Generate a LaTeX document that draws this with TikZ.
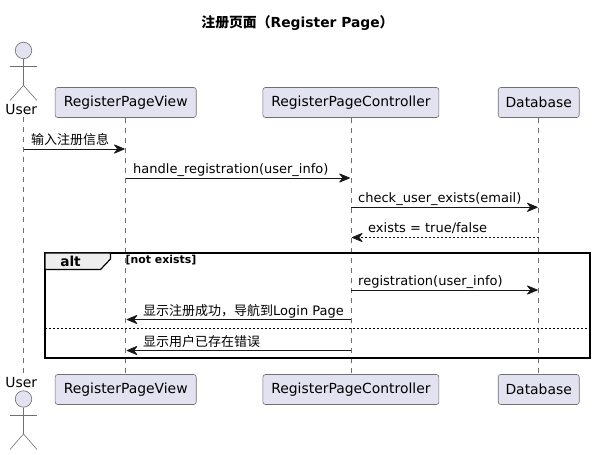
\documentclass[tikz,border=0pt]{standalone}
\usepackage{fontspec}
\setmainfont{DejaVu Sans}
\newfontfamily\cjk{Noto Sans CJK SC}
\usetikzlibrary{arrows.meta,calc}
\definecolor{pfill}{HTML}{E2E2F0}
\definecolor{pline}{HTML}{707070}
\definecolor{mline}{HTML}{181818}
\definecolor{tabfill}{HTML}{EEEEEE}
\tikzset{
  part/.style={draw=pline,line width=.6pt,fill=pfill,rounded corners=2.5pt,minimum height=30bp,inner sep=0pt,font=\fontsize{13.9bp}{16bp}\selectfont,text=black},
  lifeline/.style={draw=pline,line width=.6pt,dash pattern=on 5bp off 5bp},
  actorline/.style={draw=pline,line width=.6pt},
  actorhead/.style={circle,draw=pline,line width=.6pt,fill=pfill,minimum size=16.5bp,inner sep=0pt},
  actorname/.style={font=\fontsize{13.9bp}{16bp}\selectfont,inner sep=0pt,text=black},
  msg/.style={draw=mline,line width=.75pt,-{Stealth[length=12bp,width=10bp,inset=4bp,round]},shorten >=1bp},
  ret/.style={msg,dash pattern=on 2bp off 2bp},
  msgtext/.style={anchor=base west,inner sep=0pt,font=\fontsize{13bp}{16bp}\selectfont,text=black},
  titletext/.style={inner sep=0pt,font=\fontsize{13.85bp}{16bp}\selectfont\bfseries,text=black},
  altframe/.style={draw=black,line width=1.5pt},
  alttab/.style={draw=black,line width=1.2pt,fill=tabfill},
  alttext/.style={inner sep=0pt,font=\fontsize{13.7bp}{16bp}\selectfont\bfseries,text=black},
  guardtext/.style={anchor=base west,inner sep=0pt,font=\fontsize{10.9bp}{12bp}\selectfont\bfseries,text=black},
  sep/.style={draw=black,line width=.75pt,dash pattern=on 2bp off 2bp},
}
\begin{document}
\begin{tikzpicture}[x=1bp,y=-1bp]
\useasboundingbox[fill=white] (0,0) rectangle (595,455);
\node[titletext] (title) at (297.5,23) {{\cjk\bfseries 注册页面（}Register Page{\cjk\bfseries ）}};

% lifeline anchors
\coordinate (uT) at (23.5,117.5); \coordinate (uB) at (23.5,374.5);

% boxes
\node[part,minimum width=141bp] (vT) at (125.7,102.5) {RegisterPageView};
\node[part,minimum width=176bp] (cT) at (350.9,102.5) {RegisterPageController};
\node[part,minimum width=81bp]  (dT) at (538.7,102.5) {Database};
\node[part,minimum width=141bp] (vB) at (125.7,389.5) {RegisterPageView};
\node[part,minimum width=176bp] (cB) at (350.9,389.5) {RegisterPageController};
\node[part,minimum width=81bp]  (dB) at (538.7,389.5) {Database};

% lifelines
\draw[lifeline] (uT) -- (uB);
\draw[lifeline] (vT) -- (vB);
\draw[lifeline] (cT) -- (cB);
\draw[lifeline] (dT) -- (dB);

% actors
\node[actorhead] (uH) at (23.5,50.5) {};
\coordinate (uHip) at (23.5,85.5);
\draw[actorline] (uH) -- (uHip);
\draw[actorline] (10,66) -- (37,66);
\draw[actorline] (10,100.5) -- (uHip) -- (37,100.5);
\node[actorname] (uN) at (21.2,110) {User};

\node[actorhead] (uH2) at (23.5,399) {};
\coordinate (uHip2) at (23.5,434);
\draw[actorline] (uH2) -- (uHip2);
\draw[actorline] (10,415) -- (37,415);
\draw[actorline] (10,449.5) -- (uHip2) -- (37,449.5);
\node[actorname] (uN2) at (21.2,383) {User};

% alt frame
\draw[altframe] (45,253) rectangle (590,358);
\draw[alttab] (45,253) -- (110.5,253) -- (110.5,259) -- (100.5,269.5) -- (45,269.5) -- cycle;
\node[alttext] (altl) at (70.5,261) {alt};
\node[guardtext] (guard) at (125.5,264) {[not exists]};
\draw[sep] (45,328.5) -- (590,328.5);

% messages
\draw[msg] (uT |- 0,149) -- (vT |- 0,149);
\node[msgtext] (m1) at (31,144.5) {\cjk 输入注册信息};
\draw[msg] (vT |- 0,178) -- (cT |- 0,178);
\node[msgtext] (m2) at (133,173.5) {handle\_registration(user\_info)};
\draw[msg] (cT |- 0,207.3) -- (dT |- 0,207.3);
\node[msgtext] (m3) at (358,202.8) {check\_user\_exists(email)};
\draw[ret] (dT |- 0,237.5) -- (cT |- 0,237.5);
\node[msgtext] (m4) at (368,232.8) {exists = true/false};
\draw[msg] (cT |- 0,290) -- (dT |- 0,290);
\node[msgtext] (m5) at (358,285.3) {registration(user\_info)};
\draw[msg] (cT |- 0,319.5) -- (vT |- 0,319.5);
\node[msgtext] (m6) at (143,315) {{\cjk 显示注册成功，导航到}Login Page};
\draw[msg] (cT |- 0,350.5) -- (vT |- 0,350.5);
\node[msgtext] (m7) at (143,346) {\cjk 显示用户已存在错误};
\end{tikzpicture}
\end{document}
